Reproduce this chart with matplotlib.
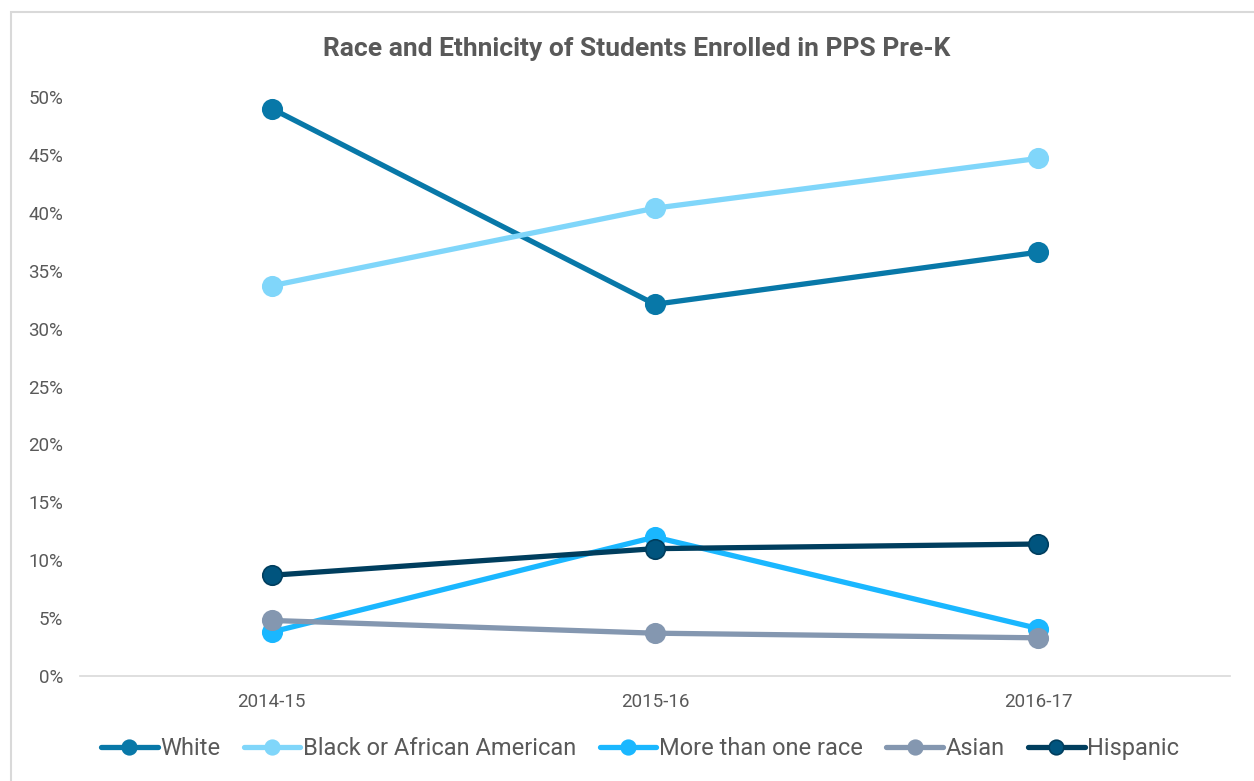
import matplotlib.pyplot as plt
from matplotlib.patches import Rectangle
from matplotlib.ticker import PercentFormatter

plt.rcParams['font.family'] = ['Roboto', 'DejaVu Sans']

years = ['2014-15', '2015-16', '2016-17']
white = [49.0, 32.1, 36.6]
black = [33.7, 40.4, 44.7]
multi = [3.8, 12.0, 4.1]
asian = [4.8, 3.7, 3.3]
hispanic = [8.7, 11.0, 11.4]

series = [
    ('White', white, '#0878A8', '#0878A8'),
    ('Black or African American', black, '#80D6FA', '#80D6FA'),
    ('More than one race', multi, '#1AB7FF', '#1AB7FF'),
    ('Asian', asian, '#8497B0', '#8497B0'),
    ('Hispanic', hispanic, '#003E5E', '#00547E'),
]

fig = plt.figure(figsize=(12.54, 7.81), dpi=100)
ax = fig.add_axes([0.0638, 0.1344, 0.917, 0.7414])

x = list(range(len(years)))
for name, vals, col, face in series:
    ax.plot(x, vals, color=col, lw=3.8, marker='o', ms=14,
            markerfacecolor=face, markeredgecolor=col, markeredgewidth=1.2,
            label=name, solid_capstyle='round')

ax.set_xlim(-0.5, 2.5)
ax.set_ylim(0, 50)
ax.set_yticks(range(0, 51, 5))
ax.yaxis.set_major_formatter(PercentFormatter(decimals=0))
ax.set_xticks(x)
ax.set_xticklabels(years)
ax.tick_params(axis='both', length=0, labelsize=13.5, labelcolor='#595959')
ax.tick_params(axis='x', pad=12)
ax.tick_params(axis='y', pad=12)
for s in ['top', 'right', 'left']:
    ax.spines[s].set_visible(False)
ax.spines['bottom'].set_color('#D9D9D9')
ax.spines['bottom'].set_linewidth(1.2)

fig.text(0.508, 0.937, 'Race and Ethnicity of Students Enrolled in PPS Pre-K',
         ha='center', va='center', fontsize=19, fontweight='bold', color='#595959')

ax.legend(loc='center', bbox_to_anchor=(0.487, -0.125), ncol=5, frameon=False,
          fontsize=17, labelcolor='#595959', handlelength=2.4, handletextpad=0.1,
          columnspacing=1.0, borderaxespad=0, markerscale=0.75)

fig.patches.append(Rectangle((11 / 1254, -0.01), 1.2, 1 - 12 / 781 + 0.01,
                             transform=fig.transFigure, fill=False,
                             edgecolor='#D9D9D9', lw=1.5))

fig.savefig('out.png', dpi=100)
